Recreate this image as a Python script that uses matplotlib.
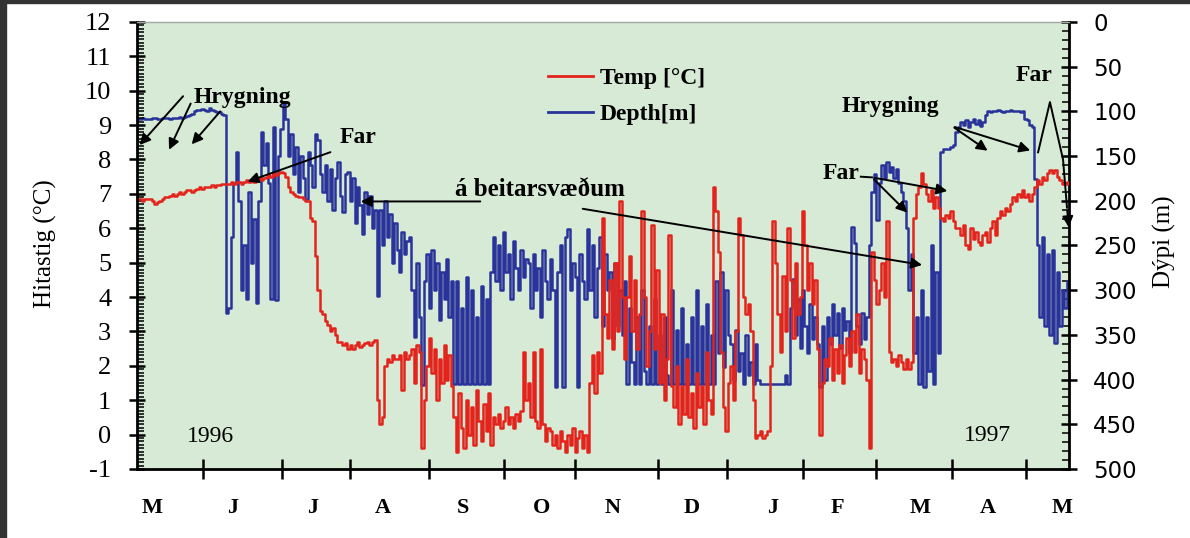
import numpy as np
import matplotlib
matplotlib.use('Agg')
import matplotlib.pyplot as plt
from matplotlib.patches import Rectangle
from matplotlib.lines import Line2D
from matplotlib.ticker import MultipleLocator

plt.rcParams['font.family'] = ['Liberation Serif', 'DejaVu Sans']
plt.rcParams['axes.unicode_minus'] = False

# daglegt hitastig (°C), dagur 0 = byrjun maí 1996
temp_c = [
    6.85, 6.85, 6.8, 6.85, 6.85, 6.85, 6.8, 6.7, 6.75, 6.8,
    6.85, 6.9, 6.9, 6.95, 7.0, 6.95, 7.0, 7.05, 7.0, 7.05,
    7.1, 7.1, 7.05, 7.1, 7.15, 7.2, 7.15, 7.2, 7.2, 7.2,
    7.25, 7.2, 7.25, 7.25, 7.3, 7.3,
    7.3, 7.3, 7.35, 7.3, 7.35, 7.35, 7.3, 7.35, 7.4, 7.35,
    7.4, 7.35, 7.4, 7.45, 7.4, 7.45, 7.5, 7.55, 7.5, 7.6,
    7.55, 7.6, 7.65, 7.6, 7.5, 7.2, 7.05,
    7.0, 6.95, 6.9, 6.9, 6.85, 6.8, 6.8,
    6.3, 6.2, 5.2, 4.2, 3.6, 3.5, 3.3,
    3.2, 3.0, 3.1, 2.9, 2.7, 2.7, 2.6, 2.65,
    2.5, 2.6, 2.5, 2.6, 2.7, 2.55, 2.6, 2.65, 2.7, 2.6, 2.7, 2.75,
    1.0, 0.3, 0.5,
    2.0, 2.2, 2.1, 2.3, 2.2, 2.2, 2.3, 1.3, 2.4, 2.2,
    2.3, 2.5, 1.5, 2.6, 2.4, -0.4, 1.0,
    2.0, 2.8, 1.8, 2.5, 1.0, 2.2, 1.5, 2.6, 1.6, 2.3, 1.4,
    0.5, -0.5, 1.2, 0.2, -0.4, 1.0, 0.0, 0.8, -0.3, 1.3, 0.4, -0.2, 0.9, 0.1, 1.2, -0.3,
    0.5, 0.3, 0.6, 0.2, 0.4, 0.8, 0.3, 0.5, 0.2, 0.6, 0.4, 0.7, 2.4, 1.0,
    1.5, 0.5, 2.4, 0.4, 0.2, 2.5, 0.3, -0.2, 0.2, 0.1,
    -0.3, 0.0, -0.4, 0.1, -0.2, -0.5, 0.0, -0.3, 0.2, -0.5,
    -0.1, 0.1, -0.4, 0.0, -0.5, 1.5, 2.3, 1.2, 2.4, 1.8,
    6.3, 3.5, 2.8,
    4.5, 2.5, 5.0, 3.0, 6.8, 4.0, 2.2,
    4.0, 5.2, 3.0, 4.5, 2.5, 3.5, 6.5, 4.0, 2.0, 3.0,
    6.1, 2.5, 4.8, 1.5, 3.5, 1.0, 2.2, 5.8, 1.4, 0.8,
    2.0, 0.3, 1.4, 0.6, 2.2, 0.5, 1.2, 0.2, 1.8, 0.8,
    1.4, 0.3, 2.4, 1.0, 0.6, 7.2,
    6.5, 5.3, 2.4, 0.8, 0.1, 1.5,
    2.0, 1.0, 3.0, 6.3, 5.8, 4.0, 3.5, 3.8, 3.0, 1.0, -0.1, 0.0,
    0.1, -0.1, 0.0, 0.1, 2.0, 6.2, 5.0, 3.5, 2.4, 4.6, 3.0, 6.0,
    4.5, 2.8, 5.0, 3.5, 4.0, 6.5, 5.5, 4.2, 5.0, 3.8, 4.5,
    2.5, 0.0, 1.5, 2.2,
    2.0, 2.8, 1.6, 2.5, 1.8, 2.6, 1.5, 2.3, 2.8, 2.0,
    3.0, 2.4, 3.5, 1.8, 2.5, 2.2, 1.6,
    -0.4,
    5.3, 4.5, 3.8, 4.2, 5.0, 4.0, 6.2, 2.4, 2.1, 2.2, 2.0, 2.3, 2.1, 1.9,
    2.2, 1.9, 2.1, 6.3, 7.0,
    7.2, 7.6, 7.3, 7.0, 6.8, 7.1, 6.6, 6.9, 6.6,
    6.3, 6.2, 6.4, 6.3, 6.5, 6.2, 6.0,
    6.0, 5.8, 6.1, 5.5, 5.4, 6.0, 5.7, 5.9, 5.6, 5.5, 5.8,
    5.9, 5.6, 6.0, 6.2, 5.8, 6.3, 6.5, 6.4, 6.6, 6.5,
    6.7, 6.9, 6.8, 7.0, 6.9, 7.1,
    6.9, 7.0, 6.8, 7.0,
    7.2, 7.4, 7.3, 7.5, 7.4, 7.6, 7.7, 7.6, 7.7, 7.5,
    7.4, 7.3, 7.3, 7.35, 7.3,
]

# dagleg dýpi (m)
depth_m = [
    108, 108, 107, 108, 108, 108, 107, 107, 108, 108,
    107, 107, 107, 108, 107, 107, 107, 106, 107, 106,
    105, 104, 103, 100, 98, 99, 97, 99, 100, 96, 98, 100, 101, 101, 103, 104,
    325, 320, 240, 180, 146, 200, 300, 250, 310, 190,
    270, 220, 314, 200, 123, 160, 135, 180, 310, 117,
    311, 150, 120, 90, 109, 150, 125,
    170, 140, 190, 150, 175, 198, 145, 160, 185, 125, 132, 170, 190, 160,
    200, 165, 210, 175, 157, 195, 213, 170,
    168, 200, 175, 225, 185, 205, 237, 190, 215, 195, 230, 210,
    307,
    210, 250, 200, 240, 215, 270, 225, 255, 280, 235, 260, 245,
    240, 300, 352, 270, 330, 406, 290,
    260, 320, 255, 300, 270, 333, 280, 310, 265, 330, 290,
    405, 290, 405, 320, 405, 285, 405, 300, 405, 330, 405, 295, 405, 310, 405, 280,
    240, 290, 250, 300, 235, 280, 260, 310, 245, 275, 300, 255, 285, 265,
    270, 320, 260, 300, 275, 330, 255, 290, 310, 265,
    300, 408, 280, 250, 408, 240, 232, 300, 270, 285,
    408, 260, 290, 310, 232, 300, 250, 330, 275, 240,
    340, 260, 300,
    280, 355, 270, 340, 300, 350, 290,
    405, 320, 380, 405, 330, 405, 300, 390, 405, 340,
    405, 310, 405, 350, 405, 330, 395, 405, 300, 405,
    345, 405, 320, 405, 360, 405, 330, 405, 300, 405,
    340, 405, 315, 405, 350, 405,
    290, 370, 280, 386, 300, 350,
    360, 400, 345, 390, 370, 405, 350, 395, 380, 405, 360, 400,
    405, 405, 405, 405, 405, 405, 405, 405, 405, 405, 395, 405,
    320, 288, 350, 310, 365, 300, 340, 370, 315, 355, 330,
    360, 408, 340, 400,
    330, 360, 315, 350, 325, 365, 320, 345, 335, 370,
    229, 247, 340, 360, 325, 355, 330,
    250, 190, 170, 221, 180, 160, 175, 157, 168, 162, 175, 165, 180, 190, 200,
    230, 300, 260, 370, 330,
    405, 300, 408, 330, 390, 250, 405, 280, 370,
    146, 142, 142, 142, 140, 138, 123,
    117, 112, 115, 110, 117, 112, 108, 114, 110, 116, 112,
    104, 100, 101, 100, 100, 99, 100, 101, 100, 100, 99, 100, 100, 100, 101, 100,
    108, 110, 115, 117,
    176, 250, 330, 240, 340, 260, 350, 255, 359, 280, 340, 300, 320, 290, 300,
]

day = np.arange(len(temp_c))

month_ticks = [26.7, 58.7, 86.2, 118.1, 148.5, 177.2, 210.7, 238.7, 269.4, 298.9, 329.7, 359.6]
month_label_days = [6.1, 38.8, 71.2, 99.5, 131.9, 163.8, 192.5, 224.5, 256.9, 283.2, 316.7, 344.2, 374.2]
month_labels = ['M', 'J', 'J', 'A', 'S', 'O', 'N', 'D', 'J', 'F', 'M', 'A', 'M']

red = '#e3241c'
blue = '#2a3399'
bg = '#d6ead5'

fig = plt.figure(figsize=(11.9, 5.38), dpi=100)
fig.patches.append(Rectangle((0, 1 - 3 / 538), 1, 3 / 538, transform=fig.transFigure, color='#333333'))
fig.patches.append(Rectangle((0, 0), 6 / 1190, 1, transform=fig.transFigure, color='#333333'))

ax = fig.add_axes([0.1151, 0.1283, 0.7832, 0.8309])
ax2 = ax.twinx()
ax.set_zorder(ax2.get_zorder() + 1)
ax.patch.set_visible(False)
ax2.patch.set_visible(True)
ax2.set_facecolor(bg)

ax2.plot(day, depth_m, color=blue, lw=1.8, drawstyle='steps-post')
ax.plot(day, temp_c, color=red, lw=1.8, drawstyle='steps-post')

ax.set_xlim(0, 377)
ax.set_ylim(-1, 12)
ax2.set_ylim(500, 0)

# ásar
ax.set_yticks(range(-1, 13))
ax.yaxis.set_minor_locator(MultipleLocator(0.1))
ax2.set_yticks(range(0, 501, 50))
ax2.yaxis.set_minor_locator(MultipleLocator(10))
ax.set_xticks(month_ticks)
ax.tick_params(axis='x', which='major', direction='inout', length=14, width=1.8, labelbottom=False)
ax.tick_params(axis='y', which='major', direction='inout', length=11, width=1.8, pad=13, labelsize=19)
ax.tick_params(axis='y', which='minor', direction='in', length=5, width=1.1)
ax2.tick_params(axis='y', which='major', direction='inout', length=11, width=1.8, pad=12, labelsize=16.5)
ax2.tick_params(axis='y', which='minor', direction='in', length=5, width=1.1)
for lbl in ax2.get_yticklabels():
    lbl.set_fontfamily('DejaVu Sans')

for s in ['left', 'bottom']:
    ax.spines[s].set_linewidth(2)
ax.spines['right'].set_visible(False)
ax.spines['top'].set_color('#a0a8a0')
ax.spines['top'].set_linewidth(1)
ax2.spines['right'].set_linewidth(2)
for s in ['left', 'bottom', 'top']:
    ax2.spines[s].set_visible(False)

for d, m in zip(month_label_days, month_labels):
    ax.text(d, -0.087, m, transform=ax.get_xaxis_transform(), ha='center', va='center',
            fontsize=16, fontweight='bold')

ax.set_ylabel('Hitastig (°C)', fontsize=18)
ax.yaxis.set_label_coords(-0.086, 0.504)
ax2.set_ylabel('Dýpi (m)', fontsize=18, rotation=90)
ax2.yaxis.set_label_coords(1.090, 0.509)

ax.text(29.9, -0.07, '1996', fontsize=17, ha='center', va='center')
ax.text(344.2, -0.04, '1997', fontsize=17, ha='center', va='center')

# skýringar
arrow = dict(arrowstyle='-|>', color='black', lw=1.4, mutation_scale=16)
tfont = dict(fontsize=17, fontweight='bold')

ax.text(42.5, 9.81, 'Hrygning', ha='center', va='center', **tfont)
for tail, head in [((19.4, 9.9), (0.3, 8.36)), ((22.2, 9.7), (12.5, 8.21)), ((34.4, 9.46), (21.4, 8.38))]:
    ax.annotate('', xy=head, xytext=tail, arrowprops=arrow, annotation_clip=False)

ax.text(89.4, 8.65, 'Far', ha='center', va='center', **tfont)
ax.annotate('', xy=(43.7, 7.33), xytext=(79.3, 8.24), arrowprops=arrow)

ax.text(163, 7.13, 'á beitarsvæðum', ha='center', va='center', fontsize=18, fontweight='bold')
ax.annotate('', xy=(89.4, 6.78), xytext=(140, 6.78), arrowprops=arrow)
ax.annotate('', xy=(318.7, 4.92), xytext=(179.2, 6.58), arrowprops=arrow)

ax.text(292.4, 7.6, 'Far', ha='right', va='center', **tfont)
ax.plot([292.8, 297.3], [7.5, 7.48], color='black', lw=1.4)
ax.annotate('', xy=(328.9, 7.07), xytext=(297.3, 7.48), arrowprops=arrow)
ax.annotate('', xy=(312.4, 6.40), xytext=(297.3, 7.48), arrowprops=arrow)

ax.text(304.6, 9.55, 'Hrygning', ha='center', va='center', **tfont)
ax.annotate('', xy=(345, 8.21), xytext=(329.7, 8.97), arrowprops=arrow)
ax.annotate('', xy=(362.4, 8.24), xytext=(329.7, 8.97), arrowprops=arrow)

ax.text(362.8, 10.43, 'Far', ha='center', va='center', **tfont)
ax.plot([364.5, 369.3, 374.6, 376.2], [8.21, 9.67, 8.0, 6.6], color='black', lw=1.4, clip_on=False)
ax.annotate('', xy=(377, 5.95), xytext=(376.2, 6.6), arrowprops=arrow, annotation_clip=False)

handles = [Line2D([], [], color=red, lw=2), Line2D([], [], color=blue, lw=2)]
ax.legend(handles, ['Temp [°C]', 'Depth[m]'], loc='upper left', bbox_to_anchor=(0.418, 0.945),
          frameon=False, prop=dict(size=17, weight='bold'), handlelength=1.9,
          handletextpad=0.3, labelspacing=0.6)

fig.savefig('out.png', dpi=100)
